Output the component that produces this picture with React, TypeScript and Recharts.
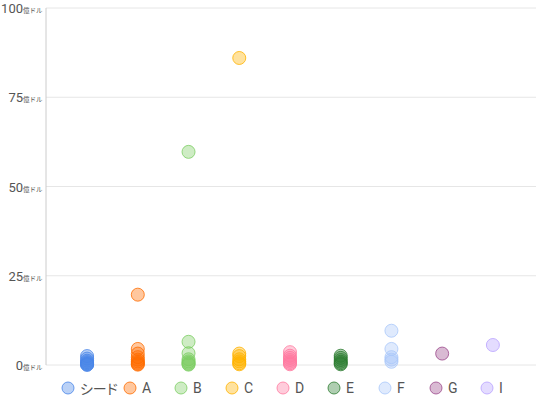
import React from "react";
import { ScatterChart, Scatter, XAxis, YAxis, CartesianGrid } from "recharts";

const categories = ["シード", "A", "B", "C", "D", "E", "F", "G", "I"];
const colors = ["#4a86e8", "#ff6d00", "#7dce64", "#ffb300", "#ff7aa0", "#2e7d32", "#aac8fa", "#9c4a8c", "#b9a2ff"];

const seedValues = [2.5, 1.8, 1.2, 0.8, 0.5, 0.3, 0.1, 0.05];
const aValues = [19.7, 4.5, 3.2, 2.2, 1.5, 1.0, 0.6, 0.3, 0.1];
const bValues = [59.7, 6.5, 3.3, 1.6, 1.0, 0.6, 0.3, 0.1];
const cValues = [86, 3.2, 2.5, 1.6, 1.0, 0.5, 0.2];
const dValues = [3.6, 2.6, 2.0, 1.4, 0.9, 0.5, 0.2];
const eValues = [2.6, 2.0, 1.4, 0.9, 0.5, 0.2];
const fValues = [9.6, 4.5, 2.2, 1.5, 0.9];
const gValues = [3.2];
const iValues = [5.6];

const seriesValues = [seedValues, aValues, bValues, cValues, dValues, eValues, fValues, gValues, iValues];
const yTicks = [0, 25, 50, 75, 100];

const FONT = "Roboto, 'Noto Sans CJK JP', sans-serif";

const YTick = (props: any) => {
  const { x, y, payload } = props;
  return (
    <text x={x + 4.5} y={y} dy={5} textAnchor="end" fill="#555" fontFamily={FONT}>
      <tspan fontSize={13}>{payload.value}</tspan>
      <tspan fontSize={6.5}>億ドル</tspan>
    </text>
  );
};

const makeDot = (color: string) => (props: any) => {
  const { cx, cy } = props;
  if (cx == null || cy == null) return <g />;
  return <circle cx={cx} cy={cy} r={6.5} fill={color} fillOpacity={0.38} stroke={color} strokeOpacity={0.8} strokeWidth={1} />;
};

export default function App() {
  return (
    <div style={{ position: "absolute", left: 0, top: 0, width: 536, height: 396, fontFamily: FONT }}>
      <ScatterChart width={536} height={396} margin={{ top: 8, right: 0, bottom: 31, left: 0 }}>
        <CartesianGrid horizontal vertical={false} stroke="#e6e6e6" />
        <XAxis
          type="number"
          dataKey="x"
          domain={[-0.81, 8.85]}
          tick={false}
          tickLine={false}
          height={0}
          axisLine={{ stroke: "#9e9e9e" }}
        />
        <YAxis
          type="number"
          dataKey="y"
          domain={[0, 100]}
          ticks={yTicks}
          width={46}
          tickLine={false}
          axisLine={{ stroke: "#cccccc" }}
          tick={<YTick />}
          interval={0}
        />
        {seriesValues.map((vals, i) => (
          <Scatter
            key={categories[i]}
            name={categories[i]}
            data={vals.map((v) => ({ x: i, y: v }))}
            shape={makeDot(colors[i])}
            isAnimationActive={false}
          />
        ))}
      </ScatterChart>
      <div style={{ position: "absolute", left: 61, top: 378, display: "flex", alignItems: "center", fontSize: 14, color: "#555", whiteSpace: "nowrap", fontFeatureSettings: '"palt"' }}>
        {categories.map((c, i) => (
          <div key={c} style={{ display: "flex", alignItems: "center", width: i === 0 ? 62 : 51, flexShrink: 0 }}>
            <svg width={14} height={14} style={{ marginRight: 5, flexShrink: 0 }}>
              <circle cx={7} cy={7} r={6} fill={colors[i]} fillOpacity={0.38} stroke={colors[i]} strokeOpacity={0.8} />
            </svg>
            <span>{c}</span>
          </div>
        ))}
      </div>
    </div>
  );
}
